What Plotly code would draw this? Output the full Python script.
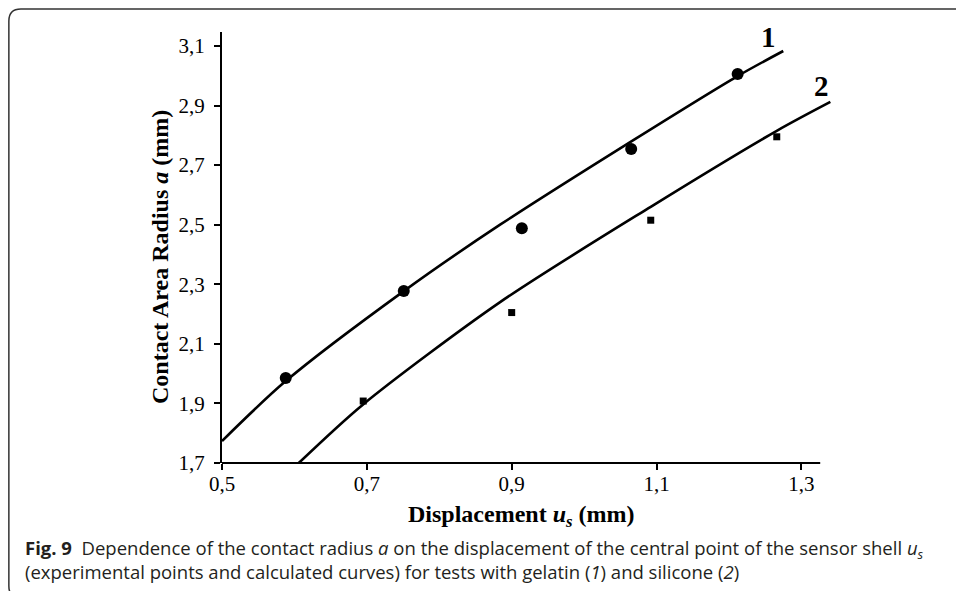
import plotly.graph_objects as go

# ---- data ----
gel_x = [0.588, 0.751, 0.914, 1.065, 1.212]
gel_y = [1.985, 2.277, 2.488, 2.754, 3.006]

sil_x = [0.695, 0.900, 1.092, 1.266]
sil_y = [1.908, 2.205, 2.515, 2.795]

curve1_x = [0.500, 0.588, 0.751, 0.884, 1.068, 1.212, 1.275]
curve1_y = [1.774, 1.975, 2.277, 2.500, 2.784, 2.999, 3.083]

curve2_x = [0.606, 0.694, 0.884, 1.092, 1.266, 1.340]
curve2_y = [1.700, 1.895, 2.240, 2.560, 2.815, 2.912]

x_ticks = [0.5, 0.7, 0.9, 1.1, 1.3]
x_ticktext = ["0,5", "0,7", "0,9", "1,1", "1,3"]
y_ticks = [1.7, 1.9, 2.1, 2.3, 2.5, 2.7, 2.9, 3.1]
y_ticktext = ["1,7", "1,9", "2,1", "2,3", "2,5", "2,7", "2,9", "3,1"]

# ---- geometry (pixels) ----
W, H = 956, 591
L, R = 222, 833.6
T, B = 32, 463
pw, ph = R - L, B - T


def px(x):
    return (x - L) / pw


def py(y):
    return (B - y) / ph


serif = "Liberation Serif"
sans = "Open Sans"

fig = go.Figure()
fig.add_trace(go.Scatter(x=curve1_x, y=curve1_y, mode="lines",
                         line=dict(color="black", width=2.6, shape="spline", smoothing=0.8),
                         showlegend=False, hoverinfo="skip"))
fig.add_trace(go.Scatter(x=curve2_x, y=curve2_y, mode="lines",
                         line=dict(color="black", width=2.6, shape="spline", smoothing=0.8),
                         showlegend=False, hoverinfo="skip"))
fig.add_trace(go.Scatter(x=gel_x, y=gel_y, mode="markers",
                         marker=dict(symbol="circle", size=12, color="black"),
                         showlegend=False, cliponaxis=False))
fig.add_trace(go.Scatter(x=sil_x, y=sil_y, mode="markers",
                         marker=dict(symbol="square", size=7, color="black"),
                         showlegend=False, cliponaxis=False))

# rounded frame
x0, x1 = px(9), px(962)
y0, y1 = py(9), py(598)
rx, ry = 12 / pw, 12 / ph
path = (f"M {x0+rx},{y0} L {x1},{y0} M {x0+rx},{y0} Q {x0},{y0} {x0},{y0-ry} "
        f"L {x0},{y1+ry} Q {x0},{y1} {x0+rx},{y1}")

shapes = [
    dict(type="path", xref="paper", yref="paper", path=path,
         line=dict(color="#333333", width=1.5)),
    dict(type="line", xref="x", yref="paper", x0=0.5, x1=1.326, y0=0, y1=0,
         line=dict(color="black", width=2)),
]

annotations = [
    dict(xref="paper", yref="paper", x=px(160), y=py(257), textangle=-90,
         text="<b>Contact Area Radius <i>a</i> (mm)</b>", showarrow=False,
         font=dict(family=serif, size=24, color="black"),
         xanchor="center", yanchor="middle"),
    dict(xref="paper", yref="paper", x=px(521), y=py(516),
         text="<b>Displacement <i>u</i><sub><i>s</i></sub> (mm)</b>", showarrow=False,
         font=dict(family=serif, size=24, color="black"),
         xanchor="center", yanchor="middle"),
    dict(xref="paper", yref="paper", x=px(768), y=py(37), text="<b>1</b>",
         showarrow=False, font=dict(family=serif, size=29, color="black"),
         xanchor="center", yanchor="middle"),
    dict(xref="paper", yref="paper", x=px(821), y=py(86), text="<b>2</b>",
         showarrow=False, font=dict(family=serif, size=29, color="black"),
         xanchor="center", yanchor="middle"),
    dict(xref="paper", yref="paper", x=px(23), y=py(549),
         text="<b>Fig. 9</b>  Dependence of the contact radius <i>a</i> on the displacement of the central point of the sensor shell <i>u</i><sub><i>s</i></sub>",
         showarrow=False, font=dict(family=sans, size=18.5, color="#231f20"),
         xanchor="left", yanchor="middle", align="left"),
    dict(xref="paper", yref="paper", x=px(23), y=py(571),
         text="(experimental points and calculated curves) for tests with gelatin (<i>1</i>) and silicone (<i>2</i>)",
         showarrow=False, font=dict(family=sans, size=18.5, color="#231f20"),
         xanchor="left", yanchor="middle", align="left"),
]

fig.update_layout(
    width=W, height=H,
    margin=dict(l=L, r=W - R, t=T, b=H - B, pad=0),
    paper_bgcolor="white", plot_bgcolor="white",
    shapes=shapes, annotations=annotations,
    xaxis=dict(range=[0.5, 0.5 + (R - L) / 723.75], tickvals=x_ticks, ticktext=x_ticktext,
               showgrid=False, zeroline=False, showline=False,
               ticks="outside", ticklen=6, tickwidth=2, tickcolor="black",
               ticklabelstandoff=-4,
               tickfont=dict(family=serif, size=21, color="black")),
    yaxis=dict(range=[1.7, 1.7 + (B - T) / 297.9], tickvals=y_ticks, ticktext=y_ticktext,
               showgrid=False, zeroline=False, showline=True, linecolor="black", linewidth=2,
               ticks="outside", ticklen=6, tickwidth=2, tickcolor="black",
               ticklabelstandoff=5,
               tickfont=dict(family=serif, size=21, color="black")),
)

fig.write_html("out.html", config={"displayModeBar": False},
               post_script="document.body.style.margin='0';document.body.style.overflow='hidden';")
